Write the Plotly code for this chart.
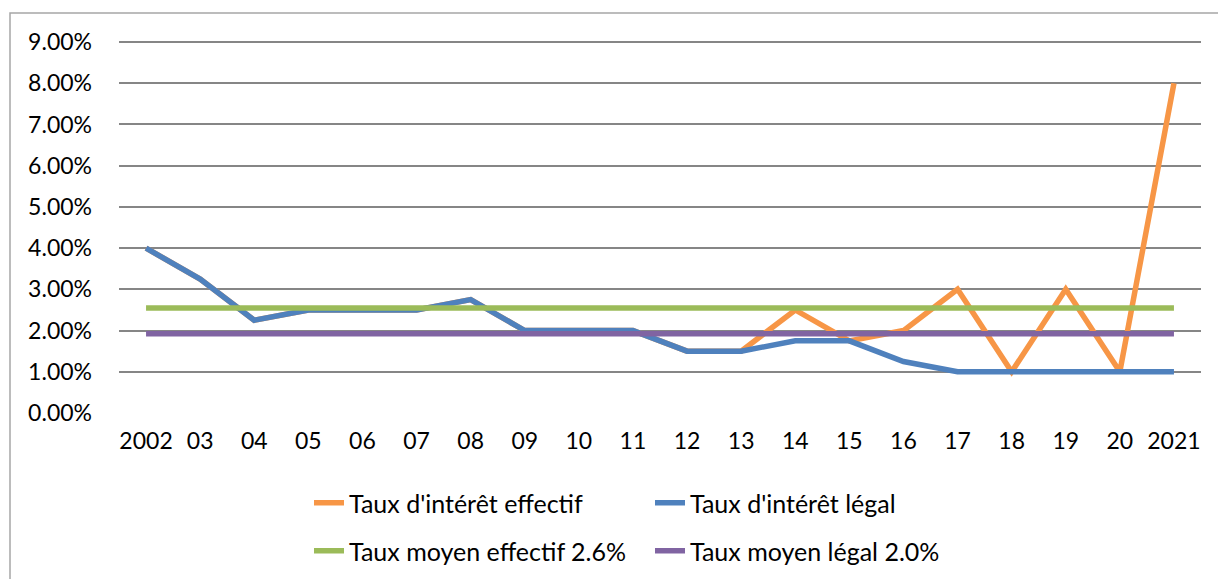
import plotly.graph_objects as go

years = ["2002", "03", "04", "05", "06", "07", "08", "09", "10", "11",
         "12", "13", "14", "15", "16", "17", "18", "19", "20", "2021"]
taux_effectif = [4.0, 3.25, 2.25, 2.5, 2.5, 2.5, 2.75, 2.0, 2.0, 2.0,
                 1.5, 1.5, 2.5, 1.75, 2.0, 3.0, 1.0, 3.0, 1.0, 8.0]
taux_legal = [4.0, 3.25, 2.25, 2.5, 2.5, 2.5, 2.75, 2.0, 2.0, 2.0,
              1.5, 1.5, 1.75, 1.75, 1.25, 1.0, 1.0, 1.0, 1.0, 1.0]
moyen_effectif = 2.55
moyen_legal = 1.925
y_ticks = [0, 1, 2, 3, 4, 5, 6, 7, 8, 9]

FONT = "Lato"
FS = 23
W, H = 1218, 579
L, R, T, B = 119, 17, 40, 166
pw, ph = W - L - R, H - T - B

def px(x):
    return (x - L) / pw

def py(y):
    return (H - B - y) / ph

fig = go.Figure()
fig.add_trace(go.Scatter(x=years, y=taux_effectif, mode="lines",
                         name="Taux d'intérêt effectif",
                         line=dict(color="#F79646", width=5.5), legend="legend"))
fig.add_trace(go.Scatter(x=years, y=taux_legal, mode="lines",
                         name="Taux d'intérêt légal",
                         line=dict(color="#4F81BD", width=5.5), legend="legend"))
fig.add_trace(go.Scatter(x=years, y=[moyen_effectif] * len(years), mode="lines",
                         name="Taux moyen effectif 2.6%",
                         line=dict(color="#9BBB59", width=5.5), legend="legend2"))
fig.add_trace(go.Scatter(x=years, y=[moyen_legal] * len(years), mode="lines",
                         name="Taux moyen légal 2.0%",
                         line=dict(color="#8064A2", width=5.5), legend="legend2"))

legend_common = dict(orientation="h", xanchor="left", yanchor="middle",
                     font=dict(family=FONT, size=25, color="#000000"),
                     entrywidth=296, entrywidthmode="pixels",
                     bgcolor="rgba(0,0,0,0)", borderwidth=0, itemwidth=30)

fig.update_layout(
    width=W, height=H,
    margin=dict(l=L, r=R, t=T, b=B, autoexpand=False),
    plot_bgcolor="white", paper_bgcolor="white",
    font=dict(family=FONT, size=FS, color="#000000"),
    xaxis=dict(type="category", range=[-0.5, 19.5], showgrid=False,
               showline=False, ticks="", ticklabelstandoff=12,
               tickfont=dict(family=FONT, size=FS)),
    yaxis=dict(range=[0, 9.05], tickvals=y_ticks,
               ticktext=[f"{v:.2f}%" for v in y_ticks],
               showgrid=True, gridcolor="#868686", gridwidth=1.6,
               zeroline=False, showline=False, ticks="",
               ticklabelstandoff=26, tickfont=dict(family=FONT, size=FS)),
    legend=dict(x=px(309), y=py(503), **legend_common),
    legend2=dict(x=px(309), y=py(551), **legend_common),
    shapes=[dict(type="rect", xref="paper", yref="paper",
                 x0=px(10), x1=px(1240), y0=py(600), y1=py(13),
                 line=dict(color="#A6A6A6", width=1.5), fillcolor="rgba(0,0,0,0)",
                 layer="below")],
)

fig.write_html("out.html",
               config={"displayModeBar": False},
               post_script="document.body.style.margin='0';document.body.style.overflow='hidden';")
